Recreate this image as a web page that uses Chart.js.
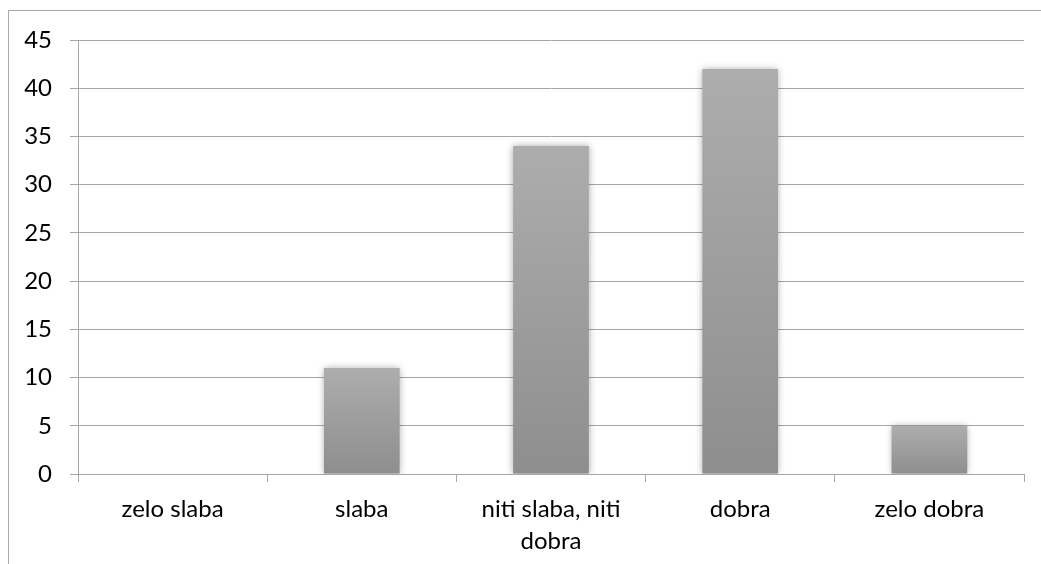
<!DOCTYPE html>
<html>
<head>
<meta charset="utf-8">
<script src="https://cdn.jsdelivr.net/npm/chart.js@4/dist/chart.umd.min.js"></script>
<style>
  html, body { margin: 0; padding: 0; background: #fff; overflow: hidden; }
  #frame { position: absolute; left: 8px; top: 10px; width: 1100px; height: 600px; border: 1px solid #a9a9a9; }
  #chart { position: absolute; left: 0; top: 0; }
</style>
</head>
<body>
<div id="frame"></div>
<canvas id="chart" width="1041" height="564"></canvas>
<script>
var categories = ['zelo slaba', 'slaba', ['niti slaba, niti', 'dobra'], 'dobra', 'zelo dobra'];
var values = [0, 11, 34, 42, 5];
var yTicks = [0, 5, 10, 15, 20, 25, 30, 35, 40, 45];

var gridColor = '#a6a6a6';
var font = { family: 'Lato, "Open Sans", sans-serif', size: 24, lineHeight: 1.3 };

// vertical gradient per bar, light on top, darker at the base
function barGradient(context) {
  var chart = context.chart;
  if (!chart.chartArea || context.dataIndex === undefined) return '#a0a0a0';
  var yScale = chart.scales.y;
  var top = yScale.getPixelForValue(context.raw);
  var bottom = yScale.getPixelForValue(0);
  if (bottom - top < 1) return '#a0a0a0';
  var g = chart.ctx.createLinearGradient(0, top, 0, bottom);
  g.addColorStop(0, '#adadad');
  g.addColorStop(1, '#8e8e8e');
  return g;
}

var barShadow = {
  id: 'barShadow',
  beforeDatasetsDraw: function (chart) {
    var ctx = chart.ctx;
    ctx.save();
    ctx.shadowColor = 'rgba(0,0,0,0.35)';
    ctx.shadowBlur = 7;
    ctx.shadowOffsetX = 0;
    ctx.shadowOffsetY = 0;
  },
  afterDatasetsDraw: function (chart) {
    chart.ctx.restore();
  }
};

var ctx = document.getElementById('chart').getContext('2d');
var chartInstance = new Chart(ctx, {
  type: 'bar',
  data: {
    labels: categories,
    datasets: [{
      data: values,
      backgroundColor: barGradient,
      borderWidth: 0,
      barPercentage: 0.4,
      categoryPercentage: 1
    }]
  },
  options: {
    responsive: false,
    animation: false,
    layout: { padding: { left: 0, top: 40, right: 17, bottom: 0 } },
    plugins: {
      legend: { display: false },
      tooltip: { enabled: false }
    },
    scales: {
      x: {
        afterFit: function (scale) { scale.height = 90; },
        grid: {
          offset: true,
          drawOnChartArea: false,
          drawTicks: true,
          tickLength: 8,
          color: gridColor
        },
        border: { display: true, color: gridColor },
        ticks: {
          color: '#000',
          font: font,
          padding: 12,
          maxRotation: 0,
          autoSkip: false
        }
      },
      y: {
        min: 0,
        max: 45,
        afterFit: function (scale) { scale.width = 78; },
        afterBuildTicks: function (scale) {
          scale.ticks = yTicks.map(function (v) { return { value: v }; });
        },
        grid: {
          color: gridColor,
          tickLength: 8,
          drawTicks: true
        },
        border: { display: true, color: gridColor },
        ticks: {
          color: '#000',
          font: font,
          padding: 18
        }
      }
    }
  },
  plugins: [barShadow]
});
</script>
</body>
</html>
